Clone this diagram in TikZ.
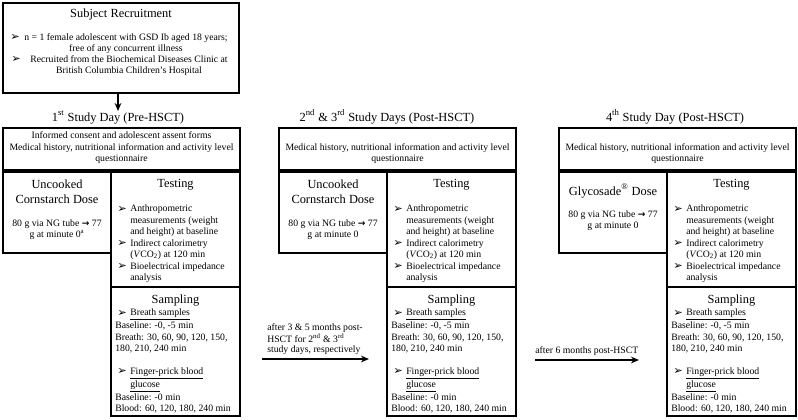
\documentclass[tikz,border=0pt]{standalone}
\usepackage{fontspec}
\setmainfont{Liberation Serif}
\newfontfamily\dejavu{DejaVu Sans}
\usetikzlibrary{arrows.meta,fit}

\newcommand{\bul}{\makebox[9.75pt][l]{\raisebox{-0.2pt}{\dejavu\fontsize{8.5}{8}\selectfont ➢}}}
\newcommand{\ind}{\hspace*{9.75pt}}
\newcommand{\stt}{\rule{0pt}{6pt}}
\newcommand{\sttb}{\rule{0pt}{7.5pt}}
\newcommand{\barr}{{\dejavu\bfseries\fontsize{6.8}{8}\selectfont →}}

% shared part of a study-day column: #1 = left x, #2 = id
\newcommand{\StudyCol}[2]{%
  \node[box, fit={(#1,128) ({#1+237},170)}] (info#2) {};
  \node[box, fit={(#1,172) ({#1+108},253)}] (dose#2) {};
  \node[box, fit={({#1+108},172) ({#1+237},287)}] (test#2) {};
  \node[box, fit={({#1+108},287) ({#1+237},416)}] (samp#2) {};
  \node[ttl, anchor=base] (testt#2) at ({#1+172.5},187.5) {Testing};
  \node[body, anchor=north west, align=left] (testx#2) at ({#1+114},203.5)
    {\stt\bul Anthropometric\\\ind measurements (weight\\\ind and height) at baseline\\%
     \bul Indirect calorimetry\\\ind (\textit{V}CO\textsubscript{2}) at 120 min\\%
     \bul Bioelectrical impedance\\\ind analysis};
  \node[ttl, anchor=base] (sampt#2) at ({#1+172.5},303.5) {Sampling};
  \node[body, anchor=north west, align=left] (sampx#2) at ({#1+112},307.5)
    {\stt\hspace*{1.5pt}\bul\underline{Breath samples}\\Baseline: -0, -5 min\\%
     Breath: 30, 60, 90, 120, 150,\\180, 210, 240 min\\[8.6pt]%
     \hspace*{1.5pt}\bul\underline{Finger-prick blood}\\\hspace*{1.5pt}\ind\underline{glucose}\\%
     Baseline: -0 min\\Blood: 60, 120, 180, 240 min};
}

\begin{document}
\begin{tikzpicture}[x=0.75pt,y=-0.75pt,
  box/.style={draw, line width=1.4pt, inner sep=0pt},
  body/.style={inner sep=0pt, font=\fontsize{7.3}{8.6}\selectfont},
  ttl/.style={inner sep=0pt, font=\fontsize{9.3}{11.25}\selectfont},
  conn/.style={line width=1.1pt, -{Stealth[length=6pt,width=5pt]}}]
\useasboundingbox (0,0) rectangle (798,419);

% ---- recruitment ----
\node[box, fit={(3,3) (239,93)}] (rec) {};
\node[ttl, anchor=base] (rect) at (121,17.5) {Subject Recruitment};
\node[body, anchor=base west] (rb1) at (10,40.5) {\bul};
\node[body, anchor=north, align=center, font=\fontsize{7.3}{8.25}\selectfont] (rt1) at (126,32.5)
  {\stt n = 1 female adolescent with GSD Ib aged 18 years;\\free of any concurrent illness};
\node[body, anchor=base west] (rb2) at (11,62.5) {\bul};
\node[body, anchor=north, align=center, font=\fontsize{7.3}{8.25}\selectfont] (rt2) at (129,54.5)
  {\stt Recruited from the Biochemical Diseases Clinic at\\British Columbia Children’s Hospital};
\coordinate (a1e) at (118,111);
\draw[conn] (rec.south -| a1e) -- (a1e);

% ---- column 1 ----
\StudyCol{3}{1}
\node[ttl, anchor=base] (title1) at (118,121) {1\textsuperscript{st} Study Day (Pre-HSCT)};
\node[body, anchor=north, align=center] (infox1) at (121.5,130.5)
  {\stt Informed consent and adolescent assent forms\\Medical history, nutritional information and activity level\\questionnaire};
\node[ttl, anchor=north, align=center] (dt1) at (57,178) {\sttb Uncooked\\Cornstarch Dose};
\node[body, anchor=north, align=center] (dx1) at (57,218) {\stt 80 g via NG tube \barr{} 77\\g at minute 0\textsuperscript{a}};

% ---- column 2 ----
\StudyCol{279}{2}
\node[ttl, anchor=base] (title2) at (387,121) {2\textsuperscript{nd} \& 3\textsuperscript{rd} Study Days (Post-HSCT)};
\node[body, anchor=north, align=center] (infox2) at (397.5,142)
  {\stt Medical history, nutritional information and activity level\\questionnaire};
\node[ttl, anchor=north, align=center] (dt2) at (333,178) {\sttb Uncooked\\Cornstarch Dose};
\node[body, anchor=north, align=center] (dx2) at (333,218) {\stt 80 g via NG tube \barr{} 77\\g at minute 0};
\node[body, anchor=north west, align=left, font=\fontsize{7.3}{7.9}\selectfont] (lab2) at (267,322)
  {\stt after 3 \& 5 months post-\\HSCT for 2\textsuperscript{nd} \& 3\textsuperscript{rd}\\study days, respectively};
\coordinate (a2s) at (262,359);
\coordinate (a2e) at (369,359);
\draw[conn] (a2s) -- (a2e);

% ---- column 3 ----
\StudyCol{559}{3}
\node[ttl, anchor=base] (title3) at (675,121) {4\textsuperscript{th} Study Day (Post-HSCT)};
\node[body, anchor=north, align=center] (infox3) at (677.5,142)
  {\stt Medical history, nutritional information and activity level\\questionnaire};
\node[ttl, anchor=base] (dt3) at (613,195) {Glycosade\textsuperscript{®} Dose};
\node[body, anchor=north, align=center] (dx3) at (613,209) {\stt 80 g via NG tube \barr{} 77\\g at minute 0};
\node[body, anchor=base west] (lab3) at (535,353.5) {after 6 months post-HSCT};
\coordinate (a3s) at (535,360);
\coordinate (a3e) at (639,360);
\draw[conn] (a3s) -- (a3e);
\end{tikzpicture}
\end{document}
